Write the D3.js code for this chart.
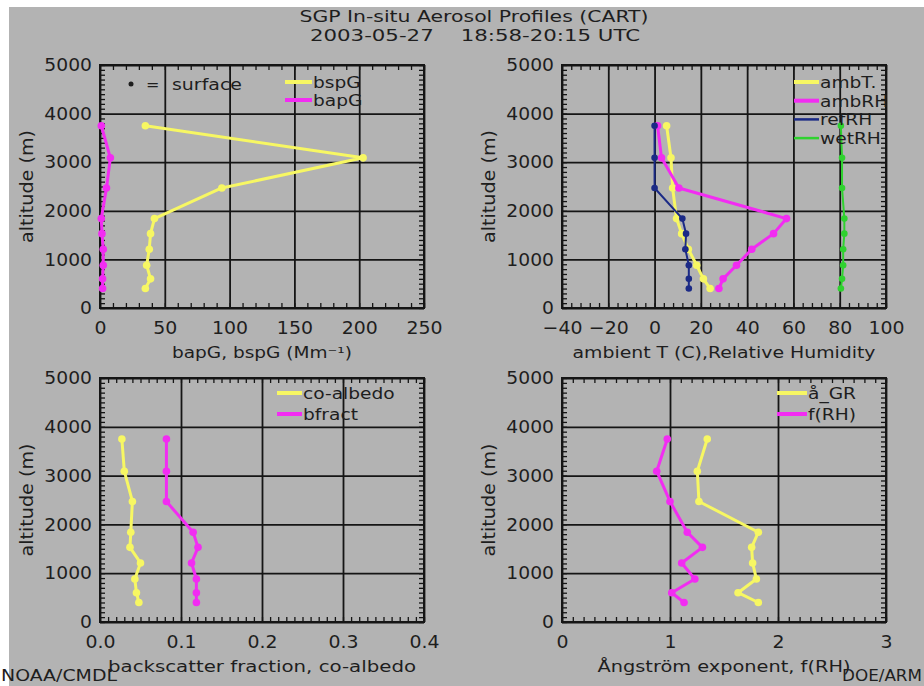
<!DOCTYPE html>
<meta charset="utf-8">
<script src="https://d3js.org/d3.v7.min.js"></script>
<style>
  body { margin: 0; background: #fff; }
  text { font-family: "DejaVu Sans", sans-serif; fill: #1e1e1e; }
</style>
<div id="chart"></div>
<script>

// altitude of each profile level (m)
const altitude = [3750, 3090, 2470, 1840, 1530, 1210, 880, 600, 400];

// scattering / absorption (Mm-1)
const bspG = [35, 203, 94, 42, 39, 38, 36, 39, 35];
const bapG = [1, 8, 5, 1, 1.5, 2.5, 2.5, 2, 2];

// temperature (C) and relative humidities (%)
const ambT = [5.2, 7.1, 7.8, 9.5, 11.7, 14.6, 18.2, 21.1, 24];
const ambRH = [1.3, 3, 10.5, 57, 51.4, 42, 35.4, 29.6, 27.8];
const refRH = [0, 0, 0, 12, 13.6, 13.3, 14.8, 14.8, 14.8];
const wetRH = [80.5, 81, 81, 82, 82, 81.5, 81.5, 81, 80.5];

// backscatter fraction and co-albedo
const coAlbedo = [0.027, 0.030, 0.040, 0.038, 0.037, 0.050, 0.043, 0.045, 0.048];
const bfract = [0.082, 0.082, 0.082, 0.115, 0.121, 0.113, 0.119, 0.119, 0.119];

// Angstrom exponent and f(RH)
const angGR = [1.345, 1.253, 1.268, 1.818, 1.756, 1.765, 1.80, 1.63, 1.818];
const fRH = [0.975, 0.877, 1.0, 1.16, 1.30, 1.108, 1.23, 1.016, 1.13];

// tick labels
const altTicks = [0, 1000, 2000, 3000, 4000, 5000];
const scatTicks = [0, 50, 100, 150, 200, 250];
const rhTicks = [-40, -20, 0, 20, 40, 60, 80, 100];
const fracTicks = [0.0, 0.1, 0.2, 0.3, 0.4];
const angTicks = [0, 1, 2, 3];

const W = 924, H = 686;
const yellow = "#f7f763", magenta = "#f22cf2", navy = "#1b2a86", green = "#2fd22f";

const svg = d3.select("#chart")
    .append("svg")
    .attr("width", W)
    .attr("height", H);

// the old IDL font is wider than DejaVu, so widen the glyphs a bit
function widen(sel, k) {
    sel.each(function () {
        const len = this.getComputedTextLength();
        d3.select(this).attr("textLength", len * k).attr("lengthAdjust", "spacingAndGlyphs");
    });
}
function fit(sel, len) {
    sel.attr("textLength", len).attr("lengthAdjust", "spacingAndGlyphs");
}

svg.append("rect").attr("width", W).attr("height", H).attr("fill", "#fff");
svg.append("rect").attr("x", 9).attr("y", 7).attr("width", W - 9).attr("height", H - 7).attr("fill", "#b3b3b3");

// title
svg.append("text").attr("x", 474).attr("y", 22).attr("text-anchor", "middle")
    .style("font-size", "16px").text("SGP In-situ Aerosol Profiles (CART)")
    .call(fit, 349);
svg.append("text").attr("x", 475).attr("y", 41).attr("text-anchor", "middle")
    .style("font-size", "16px").style("white-space", "pre").text("2003-05-27    18:58-20:15 UTC")
    .call(fit, 330);

const panels = [
    {
        left: 100, right: 424, top: 65, bottom: 308,
        domain: [0, 250], ticks: scatTicks, minor: 10, fmt: d3.format("d"),
        title: "bapG, bspG (Mm\u207B\u00B9)", titleLen: 180,
        series: [
            { name: "bspG", values: bspG, color: yellow, width: 3 },
            { name: "bapG", values: bapG, color: magenta, width: 3 }
        ],
        legend: { x1: 285, x2: 312, y: 82, step: 18 }
    },
    {
        left: 562, right: 886, top: 65, bottom: 308,
        domain: [-40, 100], ticks: rhTicks, minor: 4, fmt: d => d < 0 ? "\u2212" + (-d) : d,
        title: "ambient T (C),Relative Humidity", titleLen: 303,
        series: [
            { name: "ambT.", values: ambT, color: yellow, width: 3 },
            { name: "ambRH", values: ambRH, color: magenta, width: 3 },
            { name: "refRH", values: refRH, color: navy, width: 2 },
            { name: "wetRH", values: wetRH, color: green, width: 2 }
        ],
        legend: { x1: 794, x2: 819, y: 82, step: 18.7 }
    },
    {
        left: 100, right: 424, top: 378, bottom: 622,
        domain: [0, 0.4], ticks: fracTicks, minor: 0.01, fmt: d3.format(".1f"),
        title: "backscatter fraction, co-albedo", titleLen: 308,
        series: [
            { name: "co-albedo", values: coAlbedo, color: yellow, width: 3 },
            { name: "bfract", values: bfract, color: magenta, width: 3 }
        ],
        legend: { x1: 277, x2: 302, y: 393, step: 21 }
    },
    {
        left: 562, right: 886, top: 378, bottom: 622,
        domain: [0, 3], ticks: angTicks, minor: 0.1, fmt: d3.format("d"),
        title: "\u00C5ngstr\u00F6m exponent, f(RH)", titleLen: 253,
        series: [
            { name: "\u00E5_GR", values: angGR, color: yellow, width: 3 },
            { name: "f(RH)", values: fRH, color: magenta, width: 3 }
        ],
        legend: { x1: 777, x2: 807, y: 393, step: 21 }
    }
];

function styleAxis(sel) {
    sel.select(".domain").remove();
    sel.selectAll("line").attr("stroke", "#151515");
}

panels.forEach(function (p) {
    const x = d3.scaleLinear().domain(p.domain).range([p.left, p.right]);
    const y = d3.scaleLinear().domain([0, 5000]).range([p.bottom, p.top]);
    const w = p.right - p.left, h = p.bottom - p.top;
    const g = svg.append("g");

    const n = Math.round((p.domain[1] - p.domain[0]) / p.minor);
    const xMinor = d3.range(n + 1).map(i => p.domain[0] + i * p.minor);
    const yMinor = d3.range(51).map(i => i * 100);

    // minor ticks, inward on all four sides
    g.append("g").attr("transform", `translate(0,${p.bottom})`)
        .call(d3.axisBottom(x).tickValues(xMinor).tickSize(-5).tickFormat(""))
        .call(styleAxis).selectAll("line").attr("stroke-width", 1.3);
    g.append("g").attr("transform", `translate(0,${p.top})`)
        .call(d3.axisTop(x).tickValues(xMinor).tickSize(-5).tickFormat(""))
        .call(styleAxis).selectAll("line").attr("stroke-width", 1.3);
    g.append("g").attr("transform", `translate(${p.left},0)`)
        .call(d3.axisLeft(y).tickValues(yMinor).tickSize(-5).tickFormat(""))
        .call(styleAxis).selectAll("line").attr("stroke-width", 1.3);
    g.append("g").attr("transform", `translate(${p.right},0)`)
        .call(d3.axisRight(y).tickValues(yMinor).tickSize(-5).tickFormat(""))
        .call(styleAxis).selectAll("line").attr("stroke-width", 1.3);

    // grid lines at major ticks, with the labels
    const xa = g.append("g").attr("transform", `translate(0,${p.bottom})`)
        .call(d3.axisBottom(x).tickValues(p.ticks).tickSize(-h).tickPadding(13).tickFormat(p.fmt))
        .call(styleAxis);
    xa.selectAll("line").attr("stroke-width", 1.8);
    xa.selectAll("text").style("font-size", "18px").attr("fill", "#1e1e1e").call(widen, 1.05);

    const ya = g.append("g").attr("transform", `translate(${p.left},0)`)
        .call(d3.axisLeft(y).tickValues(altTicks).tickSize(-w).tickPadding(8).tickFormat(d3.format("d")))
        .call(styleAxis);
    ya.selectAll("line").attr("stroke-width", 1.8);
    ya.selectAll("text").style("font-size", "18px").attr("fill", "#1e1e1e").call(widen, 1.04);

    g.append("rect")
        .attr("x", p.left).attr("y", p.top)
        .attr("width", w).attr("height", h)
        .attr("fill", "none").attr("stroke", "#151515").attr("stroke-width", 2);

    // axis titles
    g.append("text")
        .attr("x", (p.left + p.right) / 2).attr("y", p.bottom + 50)
        .attr("text-anchor", "middle").style("font-size", "16px")
        .text(p.title)
        .call(fit, p.titleLen);
    g.append("text")
        .attr("transform", `translate(${p.left - 67},${(p.top + p.bottom) / 2}) rotate(-90)`)
        .attr("text-anchor", "middle").style("font-size", "17px")
        .text("altitude (m)")
        .call(fit, 113);

    // profiles
    const line = d3.line()
        .x(d => x(d.v))
        .y(d => y(d.alt));

    p.series.forEach(function (s) {
        const pts = altitude.map((a, i) => ({ alt: a, v: s.values[i] }));
        g.append("path")
            .datum(pts)
            .attr("d", line)
            .attr("fill", "none")
            .attr("stroke", s.color)
            .attr("stroke-width", s.width)
            .attr("stroke-linejoin", "round");
        g.selectAll(null)
            .data(pts)
            .join("circle")
            .attr("cx", d => x(d.v))
            .attr("cy", d => y(d.alt))
            .attr("r", s.width === 3 ? 3.8 : 3.3)
            .attr("fill", s.color);
    });

    // legend
    p.series.forEach(function (s, i) {
        const ly = p.legend.y + i * p.legend.step;
        g.append("line")
            .attr("x1", p.legend.x1).attr("x2", p.legend.x2)
            .attr("y1", ly).attr("y2", ly)
            .attr("stroke", s.color).attr("stroke-width", s.width === 3 ? 4 : 2.5);
        g.append("text")
            .attr("x", p.legend.x2 + 1).attr("y", ly + 6)
            .style("font-size", "15.5px")
            .text(s.name)
            .call(widen, 1.2);
    });
});

// surface marker note
svg.append("circle").attr("cx", 131).attr("cy", 84).attr("r", 2.5).attr("fill", "#1e1e1e");
svg.append("text").attr("x", 146).attr("y", 90).style("font-size", "16px").text("=");
svg.append("text").attr("x", 172).attr("y", 90).style("font-size", "15.5px").text("surface")
    .call(fit, 70);

// credits
svg.append("text").attr("x", 1).attr("y", 681).style("font-size", "15px").text("NOAA/CMDL")
    .call(fit, 116);
svg.append("text").attr("x", 842).attr("y", 681).style("font-size", "15px").text("DOE/ARM")
    .call(fit, 80);

</script>
